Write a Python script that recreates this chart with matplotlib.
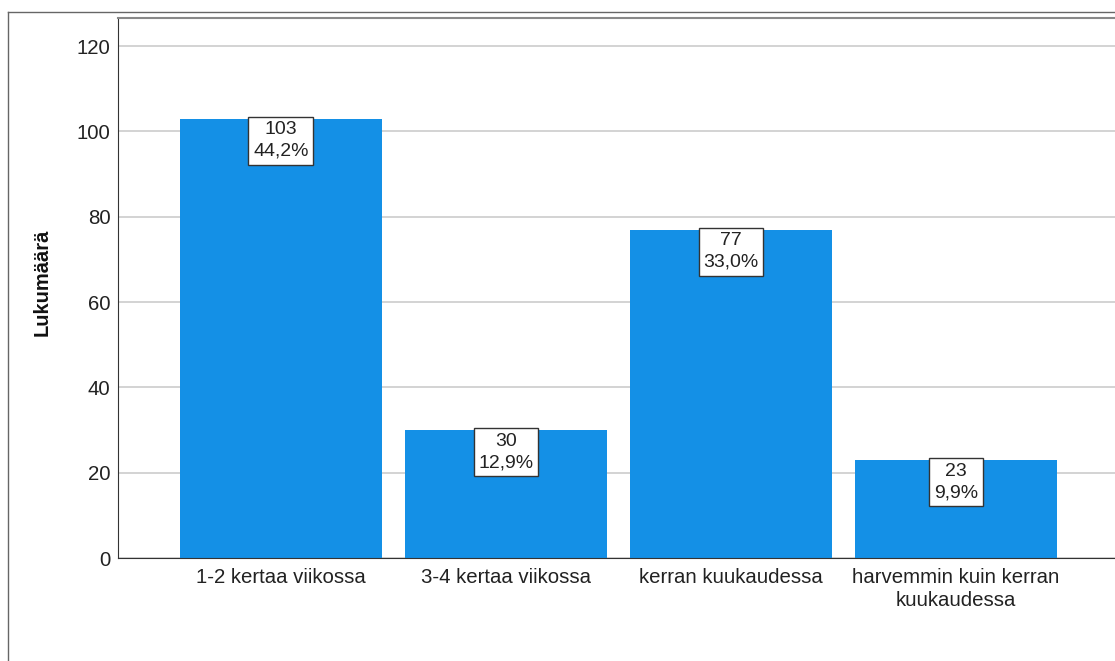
import matplotlib.pyplot as plt
from matplotlib.lines import Line2D

plt.rcParams['font.family'] = ['Liberation Sans', 'DejaVu Sans']

# data
categories = ["1-2 kertaa viikossa", "3-4 kertaa viikossa", "kerran kuukaudessa",
              "harvemmin kuin kerran\nkuukaudessa"]
counts = [103, 30, 77, 23]
percents = ["44,2%", "12,9%", "33,0%", "9,9%"]
yticks = [0, 20, 40, 60, 80, 100, 120]

fig = plt.figure(figsize=(11.15, 6.61), dpi=100)
ax = fig.add_axes([0.1058, 0.1558, 0.8978, 0.817])

x = list(range(len(categories)))
ax.bar(x, counts, width=0.9, color='#1490e6', zorder=2)

# grid + axes styling
ax.set_ylim(0, 126.6)
ax.set_xlim(-0.724, 3.724)
ax.set_yticks(yticks)
ax.yaxis.grid(True, color='#d0d0d0', linewidth=1.3, zorder=0)
ax.set_xticks(x)
ax.set_xticklabels(categories, fontsize=14.7, color='#222222', linespacing=1.25)
ax.tick_params(axis='both', length=0, labelsize=14.7, colors='#222222')
ax.tick_params(axis='y', pad=5.5)
ax.tick_params(axis='x', pad=7.5)
ax.set_ylabel("Lukumäärä", fontsize=14.5, fontweight='bold', color='#111111')
ax.yaxis.set_label_coords(-0.066, 0.51)

ax.spines['left'].set_color('#333333')
ax.spines['bottom'].set_color('#333333')
ax.spines['top'].set_color('#888888')
ax.spines['top'].set_linewidth(1.5)
ax.spines['right'].set_visible(False)

# value boxes
for xi, c, p in zip(x, counts, percents):
    ax.annotate(f"{c}\n{p}", xy=(xi, c), xytext=(0, -2), textcoords='offset points',
                ha='center', va='top', fontsize=14, linespacing=1.35, color='#222222',
                bbox=dict(boxstyle='square,pad=0.24', fc='white', ec='#333333', lw=1.0),
                zorder=4)

# outer frame
fig.add_artist(Line2D([8 / 1115, 8 / 1115], [0, 1 - 12 / 661], transform=fig.transFigure,
                      color='#666666', lw=1.0))
fig.add_artist(Line2D([8 / 1115, 1], [1 - 12 / 661, 1 - 12 / 661], transform=fig.transFigure,
                      color='#666666', lw=1.0))

fig.savefig('out.png', dpi=100)
